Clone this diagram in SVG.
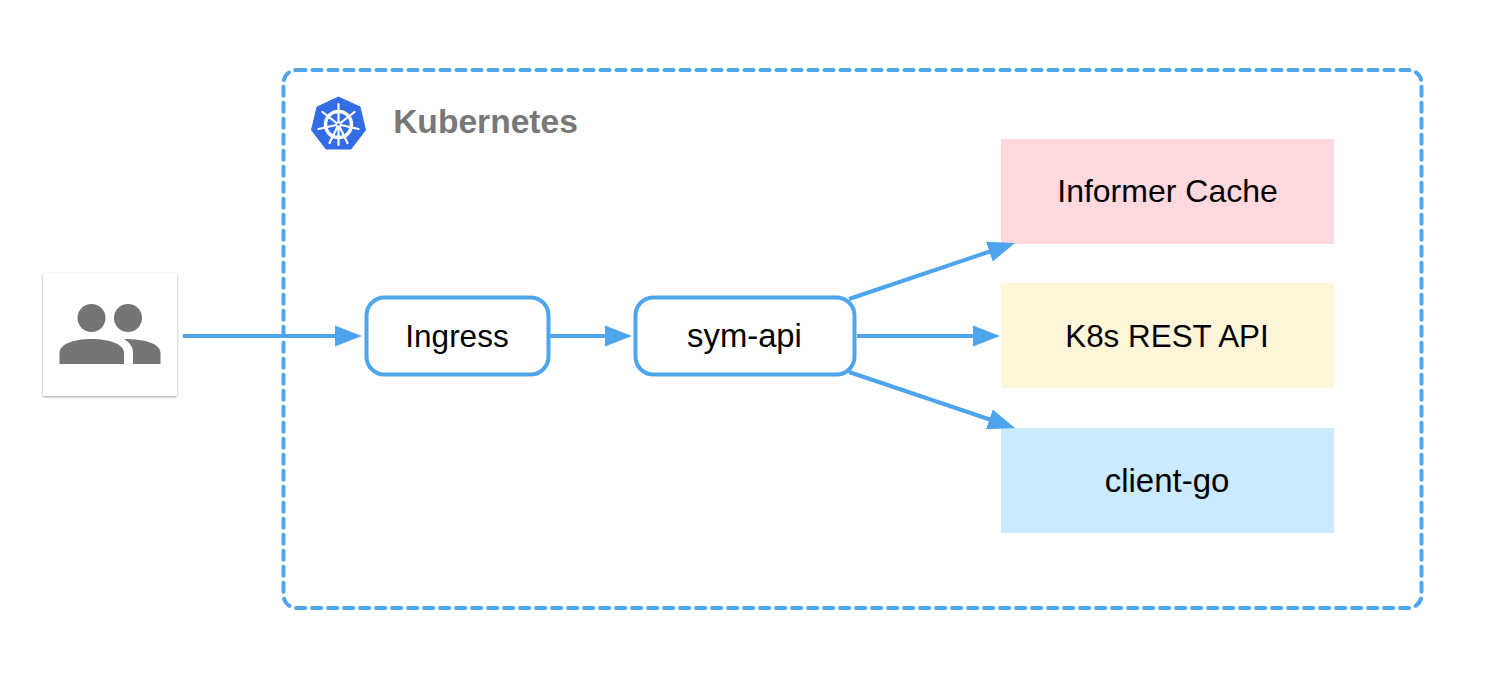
<svg xmlns="http://www.w3.org/2000/svg" width="1486" height="674" viewBox="0 0 1486 674">
<style>
text{font-family:"Liberation Sans",Arial,sans-serif;font-size:32px;fill:#000;text-anchor:middle}
.pill{fill:#fff;stroke:#4ea5ee;stroke-width:4}
.conn{fill:none;stroke:#4ea5ee;stroke-width:4;marker-end:url(#arrow)}
.grey{fill:#757575}
</style>
<defs>
<marker id="arrow" markerUnits="userSpaceOnUse" markerWidth="30" markerHeight="24" refX="2" refY="11" orient="auto" viewBox="0 0 30 24"><path d="M0 0.500L27 11L0 21.500Z" fill="#4ea5ee"/></marker>
<filter id="sh" x="-10%" y="-10%" width="120%" height="120%"><feDropShadow dx="0" dy="1" stdDeviation="1.200" flood-color="#000" flood-opacity=".4"/></filter>
</defs>
<rect width="1486" height="674" fill="#fff"/>
<g id="kubernetes">
<rect x="283.500" y="70" width="1138" height="538" rx="13" fill="none" stroke="#4ea5ee" stroke-width="4" stroke-dasharray="9 7" stroke-linecap="round"/>
<g id="k8s-logo">
<path d="M338.500 97L360 107L365.500 130L351 149L326 149L311.500 130L317 107Z" fill="#326de6" stroke="#326de6" stroke-width="1" stroke-linejoin="round"/>
<g fill="none" stroke="#fff" stroke-linecap="round">
<circle cx="338.500" cy="124.500" r="13" stroke-width="3.500"/>
<path stroke-width="2.200" d="M338.500 104V145M338.500 124.500L354.500 112M338.500 124.500L322.500 112M338.500 124.500L358.500 129M338.500 124.500L318.500 129M338.500 124.500L347.500 143M338.500 124.500L329.500 143"/>
</g>
<circle cx="338.500" cy="124.500" r="3" fill="#fff"/>
<circle cx="338.500" cy="124.500" r="1.300" fill="#326de6"/>
</g>
<text x="485.500" y="133" style="font-size:33.600px;font-weight:bold;fill:#787878">Kubernetes</text>
</g>
<g id="users">
<rect x="43" y="273" width="134" height="123" rx="2" fill="#fff" filter="url(#sh)"/>
<circle class="grey" cx="91.500" cy="318" r="14"/>
<circle class="grey" cx="128" cy="318" r="14"/>
<path class="grey" d="M59.500 364V353C59.500 344 74 339 91.500 339C109 339 124 344 124 353V364Z"/>
<path class="grey" d="M124 339C146 339 160.500 344 160.500 353V364H133V353C133 347 130 343 124 339Z"/>
</g>
<g id="informer-cache"><rect x="1001" y="139" width="333" height="105" fill="#ffd9de"/><text x="1167.500" y="202">Informer Cache</text></g>
<g id="k8s-rest-api"><rect x="1001" y="283" width="333" height="105" fill="#fff5d8"/><text x="1167" y="347" style="font-size:31.400px">K8s REST API</text></g>
<g id="client-go"><rect x="1001" y="428" width="333" height="105" fill="#c9eaff"/><text x="1167" y="492" style="font-size:33px">client-go</text></g>
<g id="connectors">
<path class="conn" d="M183 336H337"/>
<path class="conn" d="M550 336H607"/>
<path class="conn" d="M857 336H975"/>
<path class="conn" d="M849 299L991.300 251"/>
<path class="conn" d="M849 372L991.300 420"/>
</g>
<g id="ingress"><rect class="pill" x="366.500" y="297.500" width="182" height="77" rx="18"/><text x="457" y="347" style="font-size:31.500px">Ingress</text></g>
<g id="sym-api"><rect class="pill" x="635.500" y="297.500" width="219" height="77" rx="18"/><text x="744.500" y="347" style="font-size:32.800px">sym-api</text></g>
</svg>
